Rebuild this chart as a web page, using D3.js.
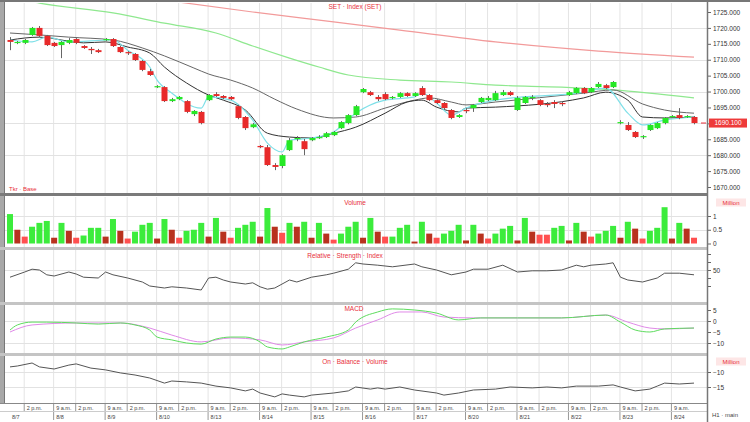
<!DOCTYPE html>
<html><head><meta charset="utf-8">
<script src="https://cdn.jsdelivr.net/npm/d3@7"></script>
<style>html,body{margin:0;padding:0;background:#fff;}svg{display:block;font-family:"Liberation Sans",Arial,sans-serif;}</style>
</head><body><svg id="c" width="750" height="422"></svg>
<script>
// ---------------- DATA ----------------
const open = [1716.2,1715.3,1715.3,1717.8,1720.0,1717.5,1715.3,1714.6,1715.3,1716.5,
1714.3,1713.4,1713.0,1716.2,1716.5,1714.0,1712.4,1711.8,1709.6,1706.4,
1701.4,1701.4,1697.0,1697.6,1697.0,1692.9,1693.6,1697.3,1699.2,1698.6,
1698.3,1695.4,1692.0,1688.8,1682.9,1682.5,1676.9,1676.6,1681.6,1685.1,
1684.4,1684.7,1685.4,1685.7,1686.3,1688.5,1690.1,1692.6,1699.8,1699.8,
1698.3,1699.2,1698.0,1698.3,1699.5,1698.6,1701.1,1698.9,1697.3,1696.4,
1694.2,1692.0,1694.2,1694.8,1696.7,1697.3,1697.3,1698.9,1699.8,1694.2,
1696.4,1698.0,1697.3,1696.1,1696.7,1696.4,1698.9,1699.5,1701.1,1699.8,
1701.4,1702.0,1701.4,1690.1,1689.5,1687.3,1685.7,1687.9,1688.5,1690.1,
1692.0,1692.6,1692.0,1692.0];
const close = [1715.6,1715.6,1716.2,1720.0,1717.5,1714.6,1714.3,1715.6,1716.2,1715.3,
1713.7,1713.0,1712.4,1716.5,1714.3,1712.4,1712.1,1709.9,1706.8,1705.2,
1701.7,1697.0,1697.6,1698.3,1693.6,1693.9,1690.1,1698.9,1698.6,1698.0,
1697.6,1691.7,1688.5,1689.7,1682.5,1676.9,1676.3,1680.0,1684.7,1685.4,
1681.9,1685.4,1685.7,1686.9,1687.3,1690.4,1692.6,1695.4,1700.8,1698.9,
1697.6,1697.6,1698.3,1699.5,1698.6,1699.5,1698.9,1697.3,1696.4,1694.8,
1691.7,1692.6,1693.9,1695.8,1698.0,1698.0,1699.5,1699.8,1698.9,1698.0,
1698.3,1698.3,1695.8,1695.8,1696.1,1696.1,1699.8,1701.1,1699.5,1701.1,
1702.4,1701.1,1703.0,1690.4,1687.9,1685.7,1686.0,1689.5,1690.1,1691.7,
1692.3,1691.7,1692.3,1690.1];
const high = [1717.1,1715.9,1716.5,1720.3,1720.6,1717.8,1715.6,1715.9,1716.8,1716.8,
1714.6,1714.0,1713.4,1716.8,1716.8,1714.3,1712.7,1712.1,1709.9,1707.1,
1702.0,1701.7,1698.0,1698.6,1697.3,1694.2,1693.9,1699.2,1699.8,1698.9,
1698.6,1695.8,1692.3,1690.1,1683.2,1683.2,1677.5,1680.3,1685.4,1686.0,
1685.1,1685.7,1686.3,1687.3,1687.6,1690.7,1692.9,1695.8,1701.1,1700.2,
1698.9,1699.8,1698.6,1699.8,1699.8,1699.8,1701.7,1699.2,1697.6,1696.7,
1694.5,1692.9,1694.8,1696.1,1698.3,1698.6,1700.2,1700.5,1700.2,1698.6,
1698.6,1698.9,1697.6,1696.7,1697.3,1697.0,1700.2,1701.4,1701.4,1701.4,
1703.0,1702.4,1703.3,1691.0,1690.4,1687.6,1686.3,1689.7,1690.4,1692.0,
1692.6,1694.8,1692.6,1692.3];
const low = [1713.0,1714.9,1714.9,1717.5,1717.1,1714.3,1714.0,1710.5,1714.9,1714.9,
1713.4,1711.8,1712.1,1715.9,1714.0,1712.1,1711.5,1709.6,1706.4,1704.9,
1701.1,1696.7,1696.7,1697.3,1693.2,1692.3,1689.7,1697.0,1698.3,1697.6,
1697.3,1691.3,1687.9,1688.5,1682.2,1676.6,1675.3,1675.9,1681.3,1684.4,
1680.0,1684.4,1685.1,1685.4,1686.0,1688.2,1689.7,1692.3,1699.5,1698.6,
1697.0,1697.3,1697.6,1698.0,1698.3,1698.3,1698.6,1697.0,1696.1,1694.5,
1691.3,1691.7,1693.2,1693.6,1696.4,1697.0,1697.0,1698.6,1698.6,1693.9,
1696.1,1697.3,1695.4,1695.1,1694.8,1695.4,1698.6,1699.2,1699.2,1699.5,
1701.1,1700.8,1701.1,1689.7,1687.6,1685.4,1685.1,1687.6,1688.2,1689.7,
1691.7,1691.3,1691.7,1689.7];
// volume in millions
const volume = [1.07,0.50,0.25,0.61,0.75,0.82,0.21,0.75,0.46,0.21,
0.29,0.57,0.57,0.25,0.89,0.46,0.18,0.43,0.68,0.75,
0.18,0.89,0.50,0.21,0.46,0.50,0.75,0.25,0.93,0.43,
0.21,0.57,0.68,0.79,0.25,1.29,0.61,0.39,0.75,0.61,
0.79,0.21,0.75,0.36,0.14,0.36,0.61,0.79,0.21,0.93,
0.43,0.25,0.25,0.57,0.68,0.07,0.79,0.36,0.21,0.36,
0.46,0.68,0.11,0.68,0.36,0.18,0.36,0.54,0.64,0.11,
0.93,0.43,0.32,0.32,0.57,0.64,0.11,0.75,0.43,0.25,
0.36,0.46,0.64,0.21,0.79,0.54,0.18,0.46,0.57,1.32,
0.18,0.75,0.54,0.21];
// volume bar class: U = up, D = down, d = down (follow-on)
const volumeSide = ['U','D','d','U','U','U','D','U','D','d',
'U','U','U','D','U','D','d','U','U','U',
'D','U','D','d','U','U','U','D','U','D',
'd','U','U','U','D','U','D','d','U','D',
'U','D','U','D','d','U','U','U','D','U',
'D','d','U','U','U','D','U','D','d','U',
'U','U','D','U','D','d','U','U','U','D',
'U','D','d','d','U','U','D','U','D','d',
'U','U','U','D','U','D','d','U','U','U',
'D','U','D','d'];
// moving averages [bar index, value]
const maFast = [[0,1716.2],[3,1715.6],[5,1717.1],[8,1715.6],[14,1716.2],[16,1713.0],[19,1707.7],[20,1703.6],[22,1699.5],[26,1694.8],[27,1698.3],[30,1697.3],[33,1691.0],[35,1683.8],[37,1681.0],[38,1684.7],[41,1685.4],[44,1687.3],[47,1693.2],[51,1697.3],[55,1698.3],[56,1699.5],[58,1696.4],[60,1692.6],[62,1694.8],[66,1697.3],[78,1699.8],[81,1701.1],[84,1693.2],[86,1689.5],[89,1691.0],[93,1692.0]];
const maMid = [[0,1716.2],[4,1717.1],[10,1715.3],[13,1715.6],[16,1714.0],[19,1712.1],[21,1707.7],[24,1702.7],[27,1698.9],[29,1697.3],[32,1694.2],[35,1686.9],[38,1685.7],[41,1685.4],[44,1686.9],[47,1688.8],[51,1693.2],[54,1696.7],[56,1697.3],[58,1695.1],[61,1693.6],[62,1694.8],[66,1695.1],[78,1698.0],[81,1699.8],[84,1697.3],[86,1692.0],[89,1691.7],[93,1692.0]];
const maSlow = [[0,1718.4],[4,1717.8],[8,1717.1],[14,1716.2],[18,1713.7],[21,1711.2],[25,1707.4],[27,1705.5],[30,1703.6],[33,1701.1],[36,1697.6],[39,1694.5],[44,1691.7],[47,1692.0],[51,1694.8],[55,1697.3],[57,1698.0],[60,1696.7],[62,1695.8],[66,1696.7],[78,1699.5],[82,1700.5],[86,1696.1],[89,1694.2],[93,1693.2]];
const ma100 = [[0,1729.7],[4,1727.8],[14,1724.7],[21,1721.5],[28,1718.4],[33,1714.3],[38,1710.5],[42,1707.7],[46,1705.2],[53,1703.6],[60,1703.0],[66,1702.0],[75,1701.4],[82,1700.5],[93,1698.0]];
const ma200 = [[20,1729.1],[23,1728.1],[33,1725.0],[44,1721.9],[53,1719.3],[66,1715.6],[80,1712.7],[93,1710.8]];
const rsi = [[0,41],[2,47.5],[3,51],[4,50],[5,44],[6,42.5],[8,47.5],[9,45],[10,41],[12,40],[13,47.5],[14,44],[16,40],[18,35],[19,30],[21,27.5],[22,29],[24,27.5],[26,25],[27,40],[28,41],[29,37.5],[30,35],[32,32.5],[33,34],[34,29],[35,26],[36,27.5],[38,37.5],[39,35],[41,41],[43,44],[44,46],[46,51],[47,59],[48,57.5],[50,56],[52,54],[55,57.5],[56,54],[58,50],[60,44],[62,47.5],[63,51],[65,51],[67,56],[69,47.5],[71,49],[73,49],[75,50],[77,56],[78,54],[79,56],[81,57.5],[82,59],[83,41],[84,37.5],[86,35],[88,40],[89,46],[91,46],[93,44]];
const macd = [[0,-4.1],[1,-1.8],[3,-0.5],[5,-0.5],[9,-0.9],[12,-1.4],[15,-0.9],[17,-1.8],[19,-4.1],[20,-7.3],[22,-8.6],[24,-10.0],[26,-10.5],[28,-8.2],[30,-7.3],[32,-7.3],[34,-9.5],[35,-11.8],[37,-12.7],[38,-11.8],[40,-9.5],[43,-7.3],[46,-4.1],[47,-0.5],[50,4.1],[52,5.5],[55,5.0],[58,3.6],[61,0.5],[64,1.4],[69,1.4],[75,1.4],[81,2.7],[83,-0.5],[85,-4.1],[87,-5.0],[89,-3.6],[93,-3.2]];
const macdSignal = [[0,-5.0],[3,-1.8],[9,-0.9],[15,-0.9],[19,-3.2],[22,-6.4],[26,-9.5],[30,-7.7],[34,-8.6],[37,-10.9],[40,-9.5],[44,-7.7],[47,-3.2],[50,0.5],[53,4.1],[56,4.1],[59,1.8],[63,1.4],[69,1.4],[75,1.4],[81,2.7],[84,-0.5],[87,-3.2],[89,-3.6],[93,-3.2]];
const obv = [[0,-8.3],[1,-8.0],[3,-7.0],[4,-8.3],[6,-9.0],[8,-7.7],[9,-7.3],[11,-8.7],[13,-9.3],[15,-10.3],[17,-11.0],[19,-12.0],[21,-13.7],[22,-13.0],[24,-13.3],[26,-13.7],[28,-14.7],[30,-15.3],[32,-16.3],[33,-15.7],[34,-17.0],[36,-18.3],[37,-17.3],[38,-17.7],[40,-18.3],[41,-17.7],[44,-17.0],[46,-16.3],[47,-15.0],[49,-15.7],[50,-15.3],[51,-15.7],[53,-15.0],[55,-16.0],[58,-17.0],[59,-17.7],[61,-17.0],[63,-16.0],[66,-15.7],[68,-15.0],[71,-15.3],[73,-15.0],[75,-15.3],[77,-14.7],[80,-14.7],[82,-14.3],[83,-15.0],[85,-16.3],[87,-15.7],[88,-14.7],[89,-13.7],[91,-14.0],[93,-13.7]];
const dayLabels = ['8/7','8/8','8/9','8/10','8/13','8/14','8/15','8/16','8/17','8/20','8/21','8/22','8/23','8/24'];
const dayStart = [0,6,13,20,27,34,41,48,55,62,69,76,83,90];
const priceTicks = [1670,1675,1680,1685,1690,1695,1700,1705,1710,1715,1720,1725];
const volTicks = [0,0.5,1];
const rsiTicks = [30,40,50,60,70];
const macdTicks = [5,0,-5,-10];
const obvTicks = [-10,-15];

// ---------------- LAYOUT ----------------
const svg = d3.select('#c');
const L = 5, R = 707;
const P = {main:[3,193], vol:[197,247], rsi:[250,302], macd:[305,353], obv:[356,403]};
const N = close.length;
const x = d3.scaleLinear().domain([0, N-1]).range([10, 694]);
const yP = d3.scaleLinear().domain([1670,1725]).range([187,12]);
const yV = d3.scaleLinear().domain([0,1]).range([243.5,216]);
const yR = d3.scaleLinear().domain([20,80]).range([294,246]);
const yM = d3.scaleLinear().domain([-10,5]).range([343,310]);
const yO = d3.scaleLinear().domain([-15,-10]).range([387,372]);
const RED = '#e8303a';

const defs = svg.append('defs');
Object.entries(P).forEach(([k,[t,b]])=>{
  defs.append('clipPath').attr('id','clip-'+k).append('rect').attr('x',L).attr('y',t).attr('width',R-L).attr('height',b-t);
});

svg.append('rect').attr('width',750).attr('height',422).attr('fill','#fff');

// vertical grid ticks (day start + afternoon tick)
const midTicks = [];
dayStart.forEach((s,k)=>{ const m = (k===0? 2 : s+3); if (m < N-1) midTicks.push(m); });
const startTicks = dayStart.slice(1);
const gridIdx = startTicks.concat(midTicks);

Object.entries(P).forEach(([k,[t,b]])=>{
  const g = svg.append('g');
  g.selectAll('line.v').data(gridIdx).join('line')
    .attr('x1',d=>x(d)-0.5).attr('x2',d=>x(d)-0.5).attr('y1',t).attr('y2',b)
    .attr('stroke','#e4e4e4').attr('stroke-width',1);
});
// horizontal grids
function hGrid(scale, vals){
  svg.append('g').selectAll('line').data(vals).join('line')
    .attr('x1',L).attr('x2',R).attr('y1',d=>Math.round(scale(d))+0.5).attr('y2',d=>Math.round(scale(d))+0.5)
    .attr('stroke','#e2e2e2');
}
hGrid(yP,[1680,1690,1700,1710,1720]);
hGrid(yV,[0.5,1]);
hGrid(yR,[50]);
hGrid(yM,[0,-10]);
hGrid(yO,[-10,-15]);

// ---------------- MAIN PRICE ----------------
const gm = svg.append('g').attr('clip-path','url(#clip-main)');
const lineP = d3.line().x(d=>x(d[0])).y(d=>yP(d[1])).curve(d3.curveMonotoneX);
gm.append('path').attr('d',lineP(ma200)).attr('fill','none').attr('stroke','#f29a9a').attr('stroke-width',1.2);
gm.append('path').attr('d',lineP(ma100)).attr('fill','none').attr('stroke','#8fe88f').attr('stroke-width',1.2);
gm.append('path').attr('d',lineP(maSlow)).attr('fill','none').attr('stroke','#666').attr('stroke-width',1);
gm.append('path').attr('d',lineP(maMid)).attr('fill','none').attr('stroke','#333').attr('stroke-width',1);
gm.append('path').attr('d',lineP(maFast)).attr('fill','none').attr('stroke','#7fe0e8').attr('stroke-width',1.2);

const idx = d3.range(N);
gm.selectAll('line.wick').data(idx).join('line')
  .attr('x1',i=>Math.round(x(i))+0.5).attr('x2',i=>Math.round(x(i))+0.5)
  .attr('y1',i=>yP(high[i])).attr('y2',i=>yP(low[i]))
  .attr('stroke','#666').attr('stroke-width',1);
gm.selectAll('rect.body').data(idx).join('rect')
  .attr('x',i=>Math.round(x(i))-2.5).attr('width',6)
  .attr('y',i=>Math.min(yP(open[i]),yP(close[i])))
  .attr('height',i=>Math.max(1.2,Math.abs(yP(open[i])-yP(close[i]))))
  .attr('fill',i=>close[i]>=open[i]?'#25e825':'#e82a2a');

// ---------------- VOLUME ----------------
const gv = svg.append('g').attr('clip-path','url(#clip-vol)');
const vcol = {U:'#3cec3c', D:'#b8321e', d:'#ff5050'};
gv.selectAll('rect').data(idx).join('rect')
  .attr('x',i=>x(i)-3).attr('width',6)
  .attr('y',i=>yV(volume[i])).attr('height',i=>yV(0)-yV(volume[i]))
  .attr('fill',i=>vcol[volumeSide[i]]);

// ---------------- RSI ----------------
svg.append('g').attr('clip-path','url(#clip-rsi)').append('path')
  .attr('d',d3.line().x(d=>x(d[0])).y(d=>yR(d[1]))(rsi))
  .attr('fill','none').attr('stroke','#555').attr('stroke-width',1);

// ---------------- MACD ----------------
const gmc = svg.append('g').attr('clip-path','url(#clip-macd)');
const lineM = d3.line().x(d=>x(d[0])).y(d=>yM(d[1])).curve(d3.curveMonotoneX);
gmc.append('path').attr('d',lineM(macdSignal)).attr('fill','none').attr('stroke','#e08ae8').attr('stroke-width',1);
gmc.append('path').attr('d',lineM(macd)).attr('fill','none').attr('stroke','#5edc5e').attr('stroke-width',1);

// ---------------- OBV ----------------
svg.append('g').attr('clip-path','url(#clip-obv)').append('path')
  .attr('d',d3.line().x(d=>x(d[0])).y(d=>yO(d[1]))(obv))
  .attr('fill','none').attr('stroke','#555').attr('stroke-width',1);

// ---------------- FRAME ----------------
svg.append('rect').attr('x',0).attr('y',0).attr('width',4).attr('height',404).attr('fill','#a8a8a8');
svg.append('line').attr('x1',4.5).attr('x2',4.5).attr('y1',0).attr('y2',404).attr('stroke','#777');
svg.append('rect').attr('x',0).attr('y',0).attr('width',750).attr('height',2).attr('fill','#777');
svg.append('rect').attr('x',0).attr('y',193).attr('width',R).attr('height',3).attr('fill','#7a7a7a');
[247,302,353].forEach(v=>svg.append('rect').attr('x',0).attr('y',v).attr('width',R).attr('height',3).attr('fill','#c4c4c4'));
svg.append('line').attr('x1',0).attr('x2',R).attr('y1',403.5).attr('y2',403.5).attr('stroke','#888');
svg.append('line').attr('x1',0).attr('x2',R).attr('y1',411.5).attr('y2',411.5).attr('stroke','#ccc');
svg.append('line').attr('x1',R+0.5).attr('x2',R+0.5).attr('y1',0).attr('y2',422).attr('stroke','#777').attr('stroke-width',1.5);

// ---------------- RIGHT AXES ----------------
function rAxis(scale, ticks, fmt){
  const g = svg.append('g').attr('transform',`translate(${R+1},0)`);
  const ax = d3.axisRight(scale).tickValues(ticks).tickFormat(fmt).tickSize(3).tickPadding(2);
  g.call(ax);
  g.select('.domain').remove();
  g.selectAll('line').attr('stroke','#666');
  g.selectAll('text').attr('font-size',6.5).attr('fill','#333');
  return g;
}
rAxis(yP, priceTicks, d3.format('.3f'));
rAxis(yV, volTicks, d3.format('~g'));
rAxis(yR, rsiTicks, d=>d===50?'50':'');
rAxis(yM, macdTicks, d3.format('~g'));
rAxis(yO, obvTicks, d3.format('~g'));

// last price marker
const lastY = yP(close[N-1]);
svg.append('line').attr('x1',701).attr('x2',706).attr('y1',lastY).attr('y2',lastY).attr('stroke',RED);
svg.append('rect').attr('x',709).attr('y',lastY-4.5).attr('width',38).attr('height',9).attr('fill','#ee3a3a');
svg.append('text').attr('x',728).attr('y',lastY+2.3).attr('text-anchor','middle').attr('font-size',6.5).attr('fill','#fff').text(d3.format('.3f')(close[N-1]));

// unit labels
function unitLabel(y, txt){
  svg.append('rect').attr('x',716).attr('y',y-4.5).attr('width',30).attr('height',8).attr('fill','#fde6e6');
  svg.append('text').attr('x',731).attr('y',y+2).attr('text-anchor','middle').attr('font-size',6).attr('fill',RED).text(txt);
}
unitLabel(203,'Million');
unitLabel(362,'Million');

// ---------------- TITLES ----------------
function title(xc, y, txt){
  svg.append('text').attr('x',xc).attr('y',y).attr('text-anchor','middle').attr('font-size',6.5).attr('fill',RED).text(txt);
}
title(355, 9, 'SET · Index (SET)');
title(355, 205, 'Volume');
title(345, 258, 'Relative · Strength · Index');
title(354, 311, 'MACD');
title(355, 364, 'On · Balance · Volume');
svg.append('text').attr('x',9).attr('y',191).attr('font-size',6).attr('fill',RED).text('Tkr · Base');

// ---------------- X AXIS ----------------
const gx = svg.append('g');
const topTicks = startTicks.map(i=>({i,t:'9 a.m.'})).concat(midTicks.map(i=>({i,t:'2 p.m.'})));
gx.selectAll('line.t').data(topTicks).join('line')
  .attr('x1',d=>x(d.i)-0.5).attr('x2',d=>x(d.i)-0.5).attr('y1',404).attr('y2',411).attr('stroke','#999');
gx.selectAll('text.t').data(topTicks).join('text')
  .attr('x',d=>x(d.i)+2).attr('y',409.5).attr('font-size',5.5).attr('fill','#444').text(d=>d.t);
const botTicks = dayStart.map((s,k)=>({i:s,t:dayLabels[k]}));
gx.selectAll('line.b').data(botTicks.slice(1)).join('line')
  .attr('x1',d=>x(d.i)-0.5).attr('x2',d=>x(d.i)-0.5).attr('y1',412).attr('y2',420).attr('stroke','#999');
gx.selectAll('text.b').data(botTicks).join('text')
  .attr('x',d=>x(d.i)+2).attr('y',418.5).attr('font-size',5.5).attr('fill','#444').text(d=>d.t);
svg.append('text').attr('x',712).attr('y',417).attr('font-size',6).attr('fill','#444').text('H1 · main');
</script></body></html>
